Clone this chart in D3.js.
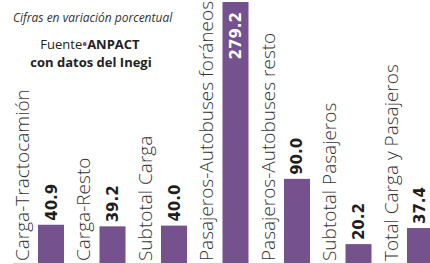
<!DOCTYPE html>
<html>
<head>
<meta charset="utf-8">
<script src="https://cdn.jsdelivr.net/npm/d3@7"></script>
<style>
  body { margin: 0; background: #fff; }
  svg { display: block; font-family: "Open Sans", sans-serif; }
</style>
</head>
<body>
<svg id="chart" width="430" height="264"></svg>
<script>
// categorias y valores (variacion porcentual)
let categories = ['Carga-Tractocamión', 'Carga-Resto', 'Subtotal Carga', 'Pasajeros-Autobuses foráneos',
  'Pasajeros-Autobuses resto', 'Subtotal Pasajeros', 'Total Carga y Pasajeros']
let values = [40.9, 39.2, 40.0, 279.2, 90.0, 20.2, 37.4]
let insideLabel = [false, false, false, true, false, false, false]

let data = categories.map(function(c, i) {
  return {cat: c, value: values[i], inside: insideLabel[i]}
})

//======================= SVG =========================
let svg = d3.select("#chart"),
    purple = "#75528e",
    baseline = 263

let x = d3.scaleBand()
  .domain(categories)
  .range([38, 433])
  .paddingInner(0.577)
  .paddingOuter(0)

let y = d3.scaleLinear()
  .domain([0, 279.2])
  .range([baseline, 2])

// linea base
svg.append("line")
  .attr("x1", 13).attr("x2", 430)
  .attr("y1", baseline + 0.5).attr("y2", baseline + 0.5)
  .attr("stroke", "#d4d4d4")
  .attr("stroke-width", 1)

// barras
svg.selectAll(".bar")
  .data(data)
  .enter().append("rect")
    .attr("class", "bar")
    .attr("x", function(d) { return x(d.cat) })
    .attr("y", function(d) { return y(d.value) })
    .attr("width", x.bandwidth())
    .attr("height", function(d) { return baseline - y(d.value) })
    .attr("fill", purple)

// etiquetas de categoria (verticales, a la izquierda de cada barra)
svg.selectAll(".cat")
  .data(data)
  .enter().append("text")
    .attr("class", "cat")
    .attr("transform", function(d) { return "translate(" + (x(d.cat) - 9) + "," + 261 + ") rotate(-90)" })
    .attr("font-size", 19)
    .attr("font-weight", 300)
    .attr("fill", "#333")
    .text(function(d) { return d.cat })

// valores
let fmt = d3.format(".1f")
svg.selectAll(".val")
  .data(data)
  .enter().append("text")
    .attr("class", "val")
    .attr("transform", function(d) {
      let cx = x(d.cat) + x.bandwidth() / 2 + 5.5
      let ty = d.inside ? y(d.value) + 10 : y(d.value) - 4
      return "translate(" + cx + "," + ty + ") rotate(-90)"
    })
    .attr("text-anchor", function(d) { return d.inside ? "end" : "start" })
    .attr("font-family", "'DejaVu Sans', sans-serif")
    .attr("font-size", 15)
    .attr("font-weight", 700)
    .attr("fill", function(d) { return d.inside ? "#fff" : "#1e1e1e" })
    .text(function(d) { return fmt(d.value) })

//======================= TITULOS =========================
svg.append("text")
  .attr("x", 13).attr("y", 22)
  .attr("font-size", 12)
  .attr("font-style", "italic")
  .attr("fill", "#333")
  .text("Cifras en variación porcentual")

let src = svg.append("text")
  .attr("x", 90).attr("y", 49)
  .attr("text-anchor", "middle")
  .attr("font-size", 13)
  .attr("fill", "#222")
src.append("tspan").text("Fuente")
src.append("tspan").attr("fill", purple).attr("font-weight", 700).text("•")
src.append("tspan").attr("font-weight", 700).text("ANPACT")

svg.append("text")
  .attr("x", 91).attr("y", 67)
  .attr("text-anchor", "middle")
  .attr("font-size", 13)
  .attr("font-weight", 700)
  .attr("fill", "#222")
  .text("con datos del Inegi")
</script>
</body>
</html>
